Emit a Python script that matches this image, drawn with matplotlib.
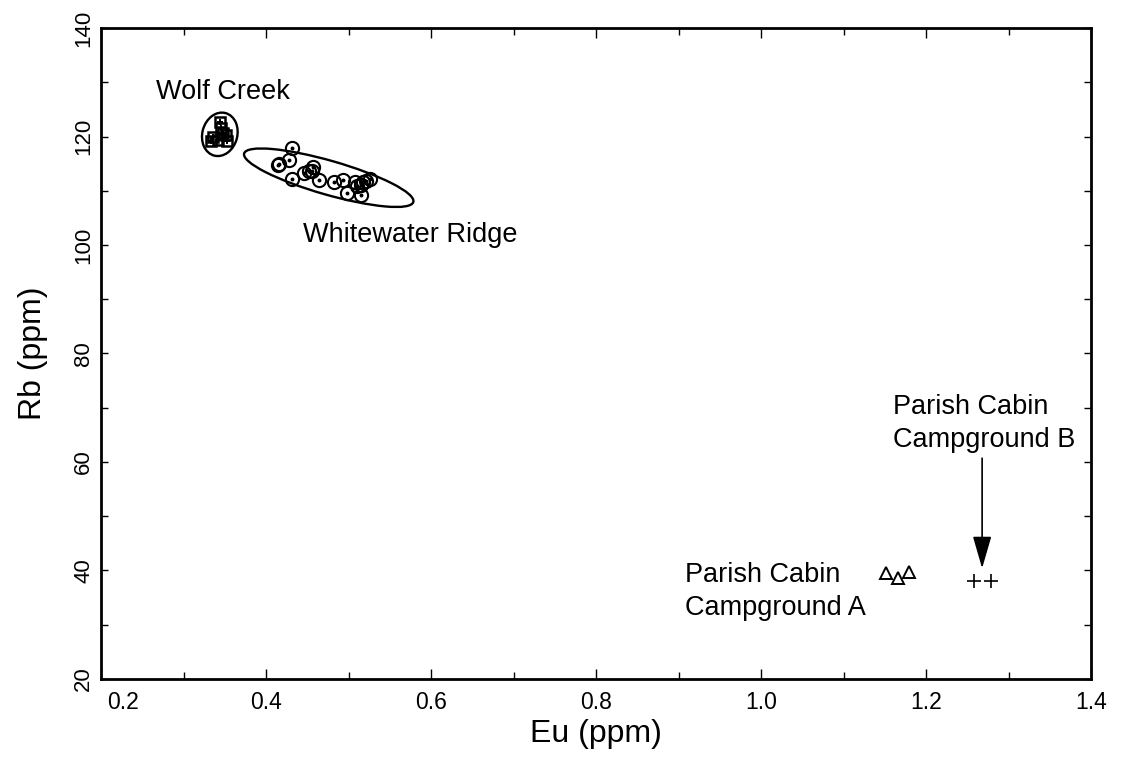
import matplotlib
matplotlib.use("Agg")
import matplotlib.pyplot as plt
from matplotlib.patches import Ellipse
from matplotlib import transforms
from matplotlib.ticker import MultipleLocator, FixedLocator

# Eu / Rb concentrations (ppm) by obsidian source group
wolf_eu = [0.344, 0.3455, 0.336, 0.333, 0.342, 0.3515, 0.3527, 0.348]
wolf_rb = [122.6, 121.5, 120.0, 119.1, 119.4, 120.2, 119.1, 120.6]

white_eu = [0.431, 0.416, 0.415, 0.428, 0.432, 0.446, 0.452, 0.457, 0.456,
            0.464, 0.482, 0.493, 0.498, 0.508, 0.510, 0.515, 0.518, 0.515,
            0.526, 0.521]
white_rb = [117.8, 114.9, 114.7, 115.7, 112.2, 113.2, 113.6, 114.4, 113.6,
            112.0, 111.6, 112.0, 109.6, 111.6, 110.9, 111.1, 111.6, 109.2,
            112.2, 111.8]

parish_a_eu = [1.152, 1.166, 1.179]
parish_a_rb = [39.5, 38.6, 39.8]

parish_b_eu = [1.258, 1.279]
parish_b_rb = [38.0, 38.0]

x_ticks = [0.2, 0.4, 0.6, 0.8, 1.0, 1.2, 1.4]
x_tick_labels = ["0.2", "0.4", "0.6", "0.8", "1.0", "1.2", "1.4"]
y_ticks = [20, 40, 60, 80, 100, 120, 140]
y_tick_labels = ["20", "40", "60", "80", "100", "120", "140"]

label_font = ["Liberation Sans", "DejaVu Sans"]
narrow_font = ["Liberation Sans Narrow", "Liberation Sans", "DejaVu Sans"]

fig = plt.figure(figsize=(11.25, 7.63), dpi=100)
ax = fig.add_axes([0.0898, 0.1101, 0.8800, 0.8532])
ax.set_xlim(0.2, 1.4)
ax.set_ylim(20, 140)

for s in ax.spines.values():
    s.set_linewidth(2.0)

ax.xaxis.set_major_locator(FixedLocator(x_ticks))
ax.xaxis.set_minor_locator(MultipleLocator(0.1))
ax.yaxis.set_major_locator(FixedLocator(y_ticks))
ax.yaxis.set_minor_locator(MultipleLocator(10))
ax.tick_params(which="both", direction="in", top=True, right=True, width=1.0)
ax.tick_params(axis="x", which="major", length=7, pad=9)
ax.tick_params(axis="x", which="minor", length=5)
ax.tick_params(axis="y", which="major", length=5, pad=5)
ax.tick_params(axis="y", which="minor", length=5)

ax.set_xticklabels(x_tick_labels, fontsize=16.5, family=label_font)
ax.set_yticklabels(y_tick_labels, fontsize=16, family=narrow_font,
                   rotation=90, va="center")
# keep the first Eu label clear of the Rb axis labels
first = ax.get_xticklabels()[0]
first.set_transform(first.get_transform() +
                    transforms.ScaledTranslation(0.22, 0, fig.dpi_scale_trans))

ax.set_xlabel("Eu (ppm)", fontsize=23, family=narrow_font)
ax.set_ylabel("Rb (ppm)", fontsize=23, family=narrow_font)
ax.xaxis.set_label_coords(0.5, -0.062)
ax.yaxis.set_label_coords(-0.054, 0.5)

# Whitewater Ridge: open circles with a centre dot
ax.plot(white_eu, white_rb, ls="none", marker="o", ms=9.5, mfc="none",
        mec="black", mew=1.5, zorder=3)
ax.plot(white_eu, white_rb, ls="none", marker="o", ms=1.8, mfc="black",
        mec="black", zorder=3)

# Wolf Creek: boxed crosses
ax.plot(wolf_eu, wolf_rb, ls="none", marker="s", ms=6.5, mfc="none",
        mec="black", mew=1.8, zorder=3)
ax.plot(wolf_eu, wolf_rb, ls="none", marker="+", ms=5, mec="black",
        mew=1.4, zorder=3)

# Parish Cabin Campground A and B
ax.plot(parish_a_eu, parish_a_rb, ls="none", marker="^", ms=8, mfc="white",
        mec="black", mew=1.4, zorder=3)
ax.plot(parish_b_eu, parish_b_rb, ls="none", marker="+", ms=10,
        mec="black", mew=1.2, zorder=3)


def group_ellipse(cx, cy, w_in, h_in, angle):
    tr = fig.dpi_scale_trans + transforms.ScaledTranslation(cx, cy, ax.transData)
    e = Ellipse((0, 0), w_in, h_in, angle=angle, fill=False,
                edgecolor="black", linewidth=1.7, transform=tr)
    ax.add_patch(e)


group_ellipse(0.344, 120.4, 0.35, 0.44, -15)
group_ellipse(0.476, 112.4, 1.76, 0.34, -16)

ax.text(0.2667, 126.9, "Wolf Creek", fontsize=19.5, family=label_font,
        ha="left", va="baseline")
ax.text(0.4448, 100.55, "Whitewater Ridge", fontsize=19.5, family=label_font,
        ha="left", va="baseline")
ax.text(0.908, 41.6, "Parish Cabin\nCampground A", fontsize=19.5,
        family=label_font, ha="left", va="top", linespacing=1.35)
ax.text(1.1596, 72.6, "Parish Cabin\nCampground B", fontsize=19.5,
        family=label_font, ha="left", va="top", linespacing=1.35)

ax.annotate("", xy=(1.268, 40.4), xytext=(1.268, 60.7),
            arrowprops=dict(arrowstyle="-|>,head_length=20,head_width=5.8",
                            mutation_scale=1, lw=1.2, color="black",
                            shrinkA=0, shrinkB=0))

fig.savefig("out.png", dpi=100)
